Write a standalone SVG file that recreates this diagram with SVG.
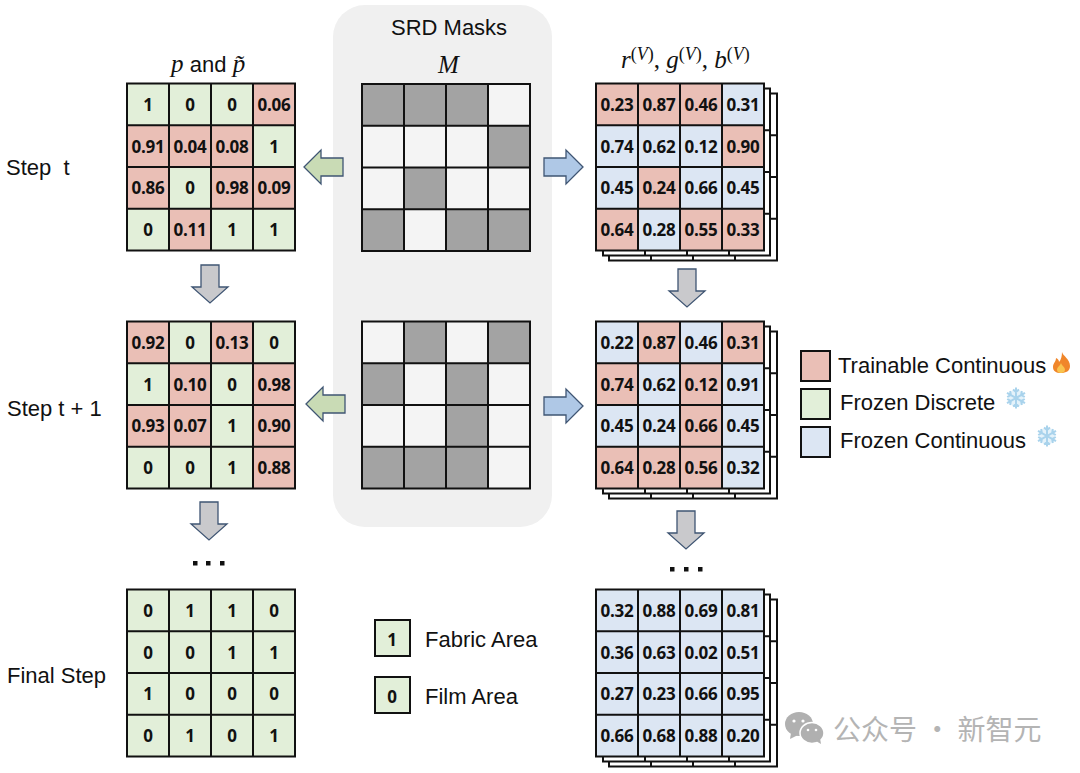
<svg xmlns="http://www.w3.org/2000/svg" width="1080" height="773" viewBox="0 0 1080 773">
<style>
text{font-family:"Liberation Sans",Arial,sans-serif;fill:#111}
.lb{font-size:22px}
.v{font-family:"Open Sans","Noto Sans",sans-serif;font-size:17px;font-weight:700;text-anchor:middle;letter-spacing:-.2px}
.m{font-family:"Liberation Serif",serif;font-style:italic;font-size:25px}
.s{font-size:18px}
.n{font-style:normal}
.r{fill:#eabfb6}.g{fill:#e2efd9}.b{fill:#dce6f3}.k{fill:#a3a3a3}.w{fill:#f4f4f4}
.ln{fill:none;stroke:#111;stroke-width:2}
.ag{fill:#c9dbb5;stroke:#3f5573;stroke-width:1.3}
.ab{fill:#afc8e6;stroke:#3f5573;stroke-width:1.3}
.ay{fill:#c9c9cc;stroke:#3f5573;stroke-width:1.3}
.sw{stroke:#111;stroke-width:2}
.sf{stroke:#a9d3ec;stroke-width:2;fill:#e4f2fa}
.wm{font-family:"Noto Sans CJK SC",sans-serif;font-size:28px;fill:#b4b4b4}
.d{fill:#111}
</style>
<defs>
<path id="gl" class="ln" d="M0 0H168V167H0ZM42 0V167M84 0V167M126 0V167M0 41.75H168M0 83.5H168M0 125.25H168"/>
<rect id="cr" class="r" width="42" height="41.75"/>
<rect id="cg" class="g" width="42" height="41.75"/>
<rect id="cb" class="b" width="42" height="41.75"/>
<rect id="ck" class="k" width="42" height="41.75"/>
<rect id="cw" class="w" width="42" height="41.75"/>
<g id="stack">
<path class="ln" d="M174 10H181V177H13V172M55 172V177M97 172V177M139 172V177M174 51.75H181M174 93.5H181M174 135.25H181"/>
<path class="ln" d="M168 5H174V172H7V167M49 167V172M91 167V172M133 167V172M168 46.75H174M168 88.500H174M168 130.25H174"/>
</g>
<path id="al" d="M0 17L17 0V8H39V26H17V34Z"/>
<path id="ar" d="M39 17L22 0V8H0V26H22V34Z"/>
<path id="ad" d="M9 0H27V22H36L18 38L0 22H9Z"/>
<g id="snow"><circle r="8" fill="#e4f2fa"/><path class="sf" d="M0-10.500V10.500M-9-5.200L9 5.200M-9 5.200L9-5.200M-3-8.500L0-6L3-8.500M-3 8.500L0 6L3 8.500M-8.800-1L-5.200-3L-5.800-7M8.800 1L5.200 3L5.800 7M-8.800 1L-5.200 3L-5.800 7M8.800-1L5.200-3L5.800-7" fill="none"/></g>
</defs>

<rect id="panel" x="333" y="5" width="219" height="522" rx="32" fill="#f0f0f0"/>

<g id="step-labels">
<text class="lb" x="6" y="175" xml:space="preserve">Step  t</text>
<text class="lb" x="7" y="416">Step t + 1</text>
<text class="lb" x="7" y="683">Final Step</text>
<text class="lb" x="391" y="35">SRD Masks</text>
</g>
<g id="math-labels">
<text class="m" x="171" y="72">p <tspan class="n" font-family="Liberation Sans" font-size="22">and</tspan> p̃</text>
<text class="m" x="438" y="73">M</text>
<text class="m" x="621" y="68">r<tspan class="s n" dy="-8">(</tspan><tspan class="s">V</tspan><tspan class="s n">)</tspan><tspan class="n" dy="8">, </tspan>g<tspan class="s n" dy="-8">(</tspan><tspan class="s">V</tspan><tspan class="s n">)</tspan><tspan class="n" dy="8">, </tspan>b<tspan class="s n" dy="-8">(</tspan><tspan class="s">V</tspan><tspan class="s n">)</tspan></text>
</g>

<g id="grid-p-t" transform="translate(127,83.5)">
<use href="#cg"/><use href="#cg" x="42"/><use href="#cg" x="84"/><use href="#cr" x="126"/>
<use href="#cr" y="41.75"/><use href="#cr" x="42" y="41.75"/><use href="#cr" x="84" y="41.75"/><use href="#cg" x="126" y="41.75"/>
<use href="#cr" y="83.5"/><use href="#cg" x="42" y="83.5"/><use href="#cr" x="84" y="83.5"/><use href="#cr" x="126" y="83.5"/>
<use href="#cg" y="125.25"/><use href="#cr" x="42" y="125.25"/><use href="#cg" x="84" y="125.25"/><use href="#cg" x="126" y="125.25"/>
<use href="#gl"/>
<text class="v" x="21" y="27">1</text><text class="v" x="63" y="27">0</text><text class="v" x="105" y="27">0</text><text class="v" x="147" y="27">0.06</text>
<text class="v" x="21" y="69">0.91</text><text class="v" x="63" y="69">0.04</text><text class="v" x="105" y="69">0.08</text><text class="v" x="147" y="69">1</text>
<text class="v" x="21" y="110.500">0.86</text><text class="v" x="63" y="110.500">0</text><text class="v" x="105" y="110.500">0.98</text><text class="v" x="147" y="110.500">0.09</text>
<text class="v" x="21" y="152">0</text><text class="v" x="63" y="152">0.11</text><text class="v" x="105" y="152">1</text><text class="v" x="147" y="152">1</text>
</g>

<g id="grid-p-t1" transform="translate(127,321.5)">
<use href="#cr"/><use href="#cg" x="42"/><use href="#cr" x="84"/><use href="#cg" x="126"/>
<use href="#cg" y="41.75"/><use href="#cr" x="42" y="41.75"/><use href="#cg" x="84" y="41.75"/><use href="#cr" x="126" y="41.75"/>
<use href="#cr" y="83.5"/><use href="#cr" x="42" y="83.5"/><use href="#cg" x="84" y="83.5"/><use href="#cr" x="126" y="83.5"/>
<use href="#cg" y="125.25"/><use href="#cg" x="42" y="125.25"/><use href="#cg" x="84" y="125.25"/><use href="#cr" x="126" y="125.25"/>
<use href="#gl"/>
<text class="v" x="21" y="27">0.92</text><text class="v" x="63" y="27">0</text><text class="v" x="105" y="27">0.13</text><text class="v" x="147" y="27">0</text>
<text class="v" x="21" y="69">1</text><text class="v" x="63" y="69">0.10</text><text class="v" x="105" y="69">0</text><text class="v" x="147" y="69">0.98</text>
<text class="v" x="21" y="110.500">0.93</text><text class="v" x="63" y="110.500">0.07</text><text class="v" x="105" y="110.500">1</text><text class="v" x="147" y="110.500">0.90</text>
<text class="v" x="21" y="152">0</text><text class="v" x="63" y="152">0</text><text class="v" x="105" y="152">1</text><text class="v" x="147" y="152">0.88</text>
</g>

<g id="grid-p-final" transform="translate(127,589.5)">
<rect class="g" width="168" height="167"/>
<use href="#gl"/>
<text class="v" x="21" y="27">0</text><text class="v" x="63" y="27">1</text><text class="v" x="105" y="27">1</text><text class="v" x="147" y="27">0</text>
<text class="v" x="21" y="69">0</text><text class="v" x="63" y="69">0</text><text class="v" x="105" y="69">1</text><text class="v" x="147" y="69">1</text>
<text class="v" x="21" y="110.500">1</text><text class="v" x="63" y="110.500">0</text><text class="v" x="105" y="110.500">0</text><text class="v" x="147" y="110.500">0</text>
<text class="v" x="21" y="152">0</text><text class="v" x="63" y="152">1</text><text class="v" x="105" y="152">0</text><text class="v" x="147" y="152">1</text>
</g>

<g id="mask-t" transform="translate(362,84)">
<use href="#ck"/><use href="#ck" x="42"/><use href="#ck" x="84"/><use href="#cw" x="126"/>
<use href="#cw" y="41.75"/><use href="#cw" x="42" y="41.75"/><use href="#cw" x="84" y="41.75"/><use href="#ck" x="126" y="41.75"/>
<use href="#cw" y="83.5"/><use href="#ck" x="42" y="83.5"/><use href="#cw" x="84" y="83.5"/><use href="#cw" x="126" y="83.5"/>
<use href="#ck" y="125.25"/><use href="#cw" x="42" y="125.25"/><use href="#ck" x="84" y="125.25"/><use href="#ck" x="126" y="125.25"/>
<use href="#gl"/>
</g>

<g id="mask-t1" transform="translate(362,321.5)">
<use href="#cw"/><use href="#ck" x="42"/><use href="#cw" x="84"/><use href="#ck" x="126"/>
<use href="#ck" y="41.75"/><use href="#cw" x="42" y="41.75"/><use href="#ck" x="84" y="41.75"/><use href="#cw" x="126" y="41.75"/>
<use href="#cw" y="83.5"/><use href="#cw" x="42" y="83.5"/><use href="#ck" x="84" y="83.5"/><use href="#cw" x="126" y="83.5"/>
<use href="#ck" y="125.25"/><use href="#ck" x="42" y="125.25"/><use href="#ck" x="84" y="125.25"/><use href="#cw" x="126" y="125.25"/>
<use href="#gl"/>
</g>

<g id="grid-rgb-t" transform="translate(596,83.5)">
<use href="#stack"/>
<use href="#cr"/><use href="#cr" x="42"/><use href="#cr" x="84"/><use href="#cb" x="126"/>
<use href="#cb" y="41.75"/><use href="#cb" x="42" y="41.75"/><use href="#cb" x="84" y="41.75"/><use href="#cr" x="126" y="41.75"/>
<use href="#cb" y="83.5"/><use href="#cr" x="42" y="83.5"/><use href="#cb" x="84" y="83.5"/><use href="#cb" x="126" y="83.5"/>
<use href="#cr" y="125.25"/><use href="#cb" x="42" y="125.25"/><use href="#cr" x="84" y="125.25"/><use href="#cr" x="126" y="125.25"/>
<use href="#gl"/>
<text class="v" x="21" y="27">0.23</text><text class="v" x="63" y="27">0.87</text><text class="v" x="105" y="27">0.46</text><text class="v" x="147" y="27">0.31</text>
<text class="v" x="21" y="69">0.74</text><text class="v" x="63" y="69">0.62</text><text class="v" x="105" y="69">0.12</text><text class="v" x="147" y="69">0.90</text>
<text class="v" x="21" y="110.500">0.45</text><text class="v" x="63" y="110.500">0.24</text><text class="v" x="105" y="110.500">0.66</text><text class="v" x="147" y="110.500">0.45</text>
<text class="v" x="21" y="152">0.64</text><text class="v" x="63" y="152">0.28</text><text class="v" x="105" y="152">0.55</text><text class="v" x="147" y="152">0.33</text>
</g>

<g id="grid-rgb-t1" transform="translate(596,321.5)">
<use href="#stack"/>
<use href="#cb"/><use href="#cr" x="42"/><use href="#cb" x="84"/><use href="#cr" x="126"/>
<use href="#cr" y="41.75"/><use href="#cb" x="42" y="41.75"/><use href="#cr" x="84" y="41.75"/><use href="#cb" x="126" y="41.75"/>
<use href="#cb" y="83.5"/><use href="#cb" x="42" y="83.5"/><use href="#cr" x="84" y="83.5"/><use href="#cb" x="126" y="83.5"/>
<use href="#cr" y="125.25"/><use href="#cr" x="42" y="125.25"/><use href="#cr" x="84" y="125.25"/><use href="#cb" x="126" y="125.25"/>
<use href="#gl"/>
<text class="v" x="21" y="27">0.22</text><text class="v" x="63" y="27">0.87</text><text class="v" x="105" y="27">0.46</text><text class="v" x="147" y="27">0.31</text>
<text class="v" x="21" y="69">0.74</text><text class="v" x="63" y="69">0.62</text><text class="v" x="105" y="69">0.12</text><text class="v" x="147" y="69">0.91</text>
<text class="v" x="21" y="110.500">0.45</text><text class="v" x="63" y="110.500">0.24</text><text class="v" x="105" y="110.500">0.66</text><text class="v" x="147" y="110.500">0.45</text>
<text class="v" x="21" y="152">0.64</text><text class="v" x="63" y="152">0.28</text><text class="v" x="105" y="152">0.56</text><text class="v" x="147" y="152">0.32</text>
</g>

<g id="grid-rgb-final" transform="translate(596,589.5)">
<use href="#stack"/>
<rect class="b" width="168" height="167"/>
<use href="#gl"/>
<text class="v" x="21" y="27">0.32</text><text class="v" x="63" y="27">0.88</text><text class="v" x="105" y="27">0.69</text><text class="v" x="147" y="27">0.81</text>
<text class="v" x="21" y="69">0.36</text><text class="v" x="63" y="69">0.63</text><text class="v" x="105" y="69">0.02</text><text class="v" x="147" y="69">0.51</text>
<text class="v" x="21" y="110.500">0.27</text><text class="v" x="63" y="110.500">0.23</text><text class="v" x="105" y="110.500">0.66</text><text class="v" x="147" y="110.500">0.95</text>
<text class="v" x="21" y="152">0.66</text><text class="v" x="63" y="152">0.68</text><text class="v" x="105" y="152">0.88</text><text class="v" x="147" y="152">0.20</text>
</g>

<g id="connectors">
<use href="#al" class="ag" x="304" y="150"/>
<use href="#al" class="ag" x="306" y="387"/>
<use href="#ar" class="ab" x="544" y="150"/>
<use href="#ar" class="ab" x="544" y="389"/>
<use href="#ad" class="ay" x="192" y="265"/>
<use href="#ad" class="ay" x="191" y="502"/>
<use href="#ad" class="ay" x="669" y="269"/>
<use href="#ad" class="ay" x="668" y="511"/>
</g>

<g id="ellipsis-left"><rect class="d" x="193" y="561" width="4.500" height="4.500"/><rect class="d" x="206" y="561" width="4.500" height="4.500"/><rect class="d" x="220" y="561" width="4.500" height="4.500"/></g>
<g id="ellipsis-right"><rect class="d" x="670" y="567" width="4.500" height="4.500"/><rect class="d" x="684" y="567" width="4.500" height="4.500"/><rect class="d" x="698" y="567" width="4.500" height="4.500"/></g>

<g id="legend-fabric">
<rect class="g sw" x="375" y="620" width="35" height="36"/>
<text class="v" x="392" y="646">1</text>
<text class="lb" x="425" y="647">Fabric Area</text>
</g>
<g id="legend-film">
<rect class="g sw" x="375" y="677" width="35" height="36"/>
<text class="v" x="392" y="703">0</text>
<text class="lb" x="425" y="704">Film Area</text>
</g>

<g id="legend-trainable">
<rect class="r sw" x="801" y="351" width="29" height="30"/>
<text class="lb" x="838" y="373">Trainable Continuous</text>
<path d="M1062 352C1063 356 1070 359 1070 366C1070 371 1066 373 1061 373C1056 373 1053 371 1053 367C1053 363 1056 362 1056 358C1058 359 1059 360 1059 362C1061 360 1062 356 1062 352Z" fill="#f0862a"/>
<path d="M1061 363C1062 366 1065 367 1065 370C1065 372 1063 373 1061 373C1059 373 1057 372 1057 370C1057 367 1060 366 1061 363Z" fill="#f9c34e"/>
</g>
<g id="legend-discrete">
<rect class="g sw" x="801" y="389" width="29" height="30"/>
<text class="lb" x="840" y="410">Frozen Discrete</text>
<use href="#snow" x="1016" y="398"/>
</g>
<g id="legend-frozen">
<rect class="b sw" x="801" y="427" width="29" height="30"/>
<text class="lb" x="840" y="448">Frozen Continuous</text>
<use href="#snow" x="1047" y="436"/>
</g>

<g id="watermark">
<ellipse cx="799" cy="724" rx="14" ry="12" fill="#b0b0b0"/>
<path d="M791 733L790 739L798 735Z" fill="#b0b0b0"/>
<ellipse cx="812" cy="733" rx="12" ry="10.500" fill="#b0b0b0" stroke="#fff" stroke-width="1.500"/>
<path d="M816 741L821 744L820 738Z" fill="#b0b0b0"/>
<circle cx="794" cy="721" r="1.600" fill="#fff"/><circle cx="803" cy="721" r="1.600" fill="#fff"/>
<circle cx="808" cy="730" r="1.300" fill="#fff"/><circle cx="816" cy="730" r="1.300" fill="#fff"/>
<text class="wm" x="833" y="740">公众号 · 新智元</text>
</g>
</svg>
